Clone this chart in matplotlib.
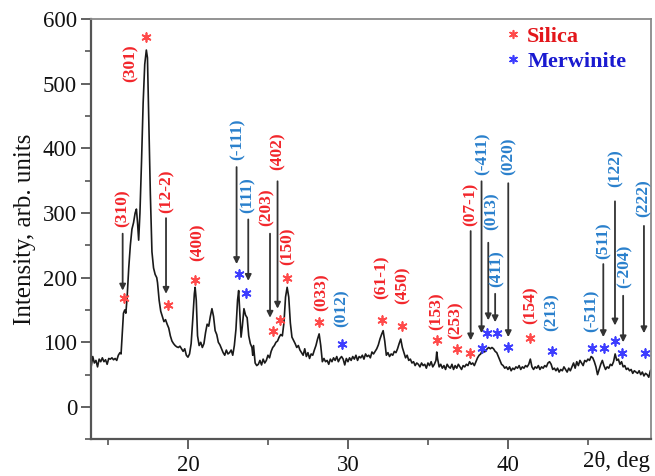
import matplotlib
matplotlib.use("Agg")
import matplotlib.pyplot as plt
from matplotlib.ticker import MultipleLocator

# ---------------- data ----------------
two_theta = [13.95, 14.05, 14.15, 14.25, 14.35, 14.45, 14.55, 14.65, 14.75, 14.85, 14.95, 15.05, 15.15, 15.25,
             15.35, 15.45, 15.55, 15.65, 15.75, 15.82, 15.9, 15.97, 16.05, 16.12, 16.2, 16.3, 16.4, 16.5, 16.6,
             16.7, 16.78, 16.85, 16.92, 17.0, 17.1, 17.2, 17.3, 17.4, 17.47, 17.55, 17.65, 17.75, 17.85, 17.95,
             18.05, 18.1, 18.2, 18.3, 18.4, 18.5, 18.6, 18.7, 18.8, 18.9, 19.0, 19.1, 19.2, 19.3, 19.4, 19.5,
             19.6, 19.7, 19.8, 19.9, 20.0, 20.1, 20.2, 20.3, 20.4, 20.45, 20.52, 20.6, 20.7, 20.8, 20.9, 21.0,
             21.1, 21.2, 21.3, 21.4, 21.5, 21.6, 21.7, 21.8, 21.9, 22.0, 22.1, 22.2, 22.3, 22.4, 22.5, 22.6,
             22.7, 22.8, 22.9, 23.0, 23.1, 23.17, 23.25, 23.32, 23.4, 23.5, 23.6, 23.7, 23.8, 23.9, 24.0, 24.05,
             24.1, 24.2, 24.3, 24.4, 24.5, 24.6, 24.7, 24.8, 24.9, 25.0, 25.1, 25.2, 25.3, 25.4, 25.5, 25.6,
             25.7, 25.8, 25.9, 26.0, 26.1, 26.2, 26.3, 26.4, 26.5, 26.6, 26.7, 26.8, 26.9, 27.0, 27.1, 27.2,
             27.3, 27.4, 27.5, 27.6, 27.7, 27.8, 27.9, 28.0, 28.1, 28.2, 28.3, 28.4, 28.5, 28.6, 28.7, 28.8,
             28.9, 29.0, 29.1, 29.2, 29.3, 29.4, 29.5, 29.6, 29.7, 29.8, 29.9, 30.0, 30.1, 30.2, 30.3, 30.4,
             30.5, 30.6, 30.7, 30.8, 30.9, 31.0, 31.1, 31.2, 31.3, 31.4, 31.5, 31.6, 31.7, 31.8, 31.9, 32.0,
             32.1, 32.2, 32.3, 32.4, 32.5, 32.6, 32.7, 32.8, 32.9, 33.0, 33.1, 33.2, 33.3, 33.4, 33.5, 33.6,
             33.7, 33.8, 33.9, 34.0, 34.1, 34.2, 34.3, 34.4, 34.5, 34.6, 34.7, 34.8, 34.9, 35.0, 35.1, 35.2,
             35.3, 35.4, 35.5, 35.55, 35.6, 35.7, 35.8, 35.9, 36.0, 36.1, 36.2, 36.3, 36.4, 36.5, 36.6, 36.7,
             36.8, 36.9, 37.0, 37.1, 37.2, 37.3, 37.4, 37.5, 37.6, 37.7, 37.8, 37.9, 38.0, 38.1, 38.2, 38.3,
             38.4, 38.5, 38.6, 38.7, 38.8, 38.9, 39.0, 39.1, 39.2, 39.3, 39.4, 39.5, 39.6, 39.7, 39.8, 39.9,
             40.0, 40.1, 40.2, 40.3, 40.4, 40.5, 40.6, 40.7, 40.8, 40.9, 41.0, 41.1, 41.2, 41.3, 41.4, 41.5,
             41.6, 41.7, 41.8, 41.9, 42.0, 42.1, 42.2, 42.3, 42.4, 42.5, 42.6, 42.7, 42.8, 42.9, 43.0, 43.1,
             43.2, 43.3, 43.4, 43.5, 43.6, 43.7, 43.8, 43.9, 44.0, 44.1, 44.2, 44.3, 44.4, 44.5, 44.6, 44.7,
             44.8, 44.9, 45.0, 45.1, 45.2, 45.3, 45.4, 45.5, 45.6, 45.7, 45.8, 45.9, 46.0, 46.1, 46.2, 46.3,
             46.4, 46.5, 46.6, 46.7, 46.8, 46.9, 47.0, 47.1, 47.2, 47.3, 47.4, 47.5, 47.6, 47.7, 47.8, 47.9,
             48.0, 48.1, 48.2, 48.3, 48.4, 48.5, 48.6, 48.7, 48.8, 48.9, 48.97]
intensity = [62, 78, 68, 72, 62, 74, 70, 76, 70, 73, 66, 75, 74, 76,
             73, 75, 72, 80, 84, 82, 115, 145, 150, 145, 170, 215, 250, 275, 285,
             300, 306, 285, 258, 300, 380, 470, 530, 552, 540, 450, 330, 240, 215, 205,
             200, 192, 165, 148, 140, 132, 135, 128, 122, 110, 102, 98, 95, 93, 92, 94,
             90, 86, 90, 80, 77, 82, 98, 135, 175, 185, 165, 110, 95, 100, 92, 98,
             115, 128, 125, 140, 152, 140, 118, 112, 100, 96, 90, 84, 80, 88, 82, 84,
             88, 80, 95, 120, 165, 180, 140, 108, 125, 152, 142, 138, 110, 98, 92, 80,
             95, 68, 64, 66, 72, 65, 74, 68, 72, 80, 76, 86, 92, 95, 100, 102,
             108, 112, 110, 130, 170, 185, 170, 130, 108, 103, 98, 92, 95, 88, 84, 80,
             90, 78, 84, 75, 82, 80, 88, 95, 105, 113, 95, 70, 75, 70, 72, 66,
             74, 70, 76, 72, 78, 70, 75, 78, 74, 65, 75, 70, 76, 72, 78, 74,
             80, 72, 78, 76, 80, 74, 82, 78, 80, 76, 85, 82, 86, 90, 96, 105,
             112, 118, 102, 80, 84, 78, 82, 80, 86, 84, 90, 98, 105, 92, 84, 76,
             80, 72, 74, 68, 70, 64, 68, 66, 62, 68, 64, 66, 60, 68, 64, 70,
             62, 66, 72, 85, 75, 62, 66, 60, 64, 58, 66, 62, 60, 66, 58, 64,
             60, 66, 62, 58, 64, 62, 66, 64, 70, 66, 68, 64, 70, 76, 80, 82,
             88, 85, 86, 90, 92, 90, 92, 90, 86, 84, 78, 72, 66, 64, 60, 62,
             58, 62, 56, 60, 58, 62, 60, 64, 58, 62, 60, 64, 62, 66, 74, 62,
             58, 62, 60, 64, 58, 62, 60, 64, 62, 68, 70, 66, 58, 60, 56, 60,
             54, 58, 56, 62, 58, 54, 60, 56, 62, 68, 60, 70, 64, 72, 68, 64,
             72, 70, 74, 72, 78, 76, 70, 62, 50, 58, 66, 72, 64, 58, 62, 60,
             66, 64, 70, 82, 72, 74, 66, 70, 62, 64, 58, 60, 56, 58, 52, 56,
             54, 52, 56, 50, 54, 48, 52, 50, 46, 56, 58]

# Silica reflections
silica_labels = ["(310)", "(301)", "(12-2)", "(400)", "(203)", "(402)", "(150)", "(033)",
                 "(61-1)", "(450)", "(153)", "(253)", "(07-1)", "(154)"]
silica_label_x = [15.94, 16.44, 18.69, 20.6, 24.94, 25.63, 26.2, 28.35, 32.1, 33.4, 35.56, 36.7, 37.67, 41.4]
silica_label_y = [308, 531, 334, 254, 309, 395, 248, 178, 200, 188, 148, 134, 314, 158]
silica_star_x = [16.0, 17.36, 18.77, 20.44, 25.3, 25.75, 26.2, 28.2, 32.1, 33.4, 35.56, 36.8, 37.63, 41.4]
silica_star_y = [169, 572, 157, 197, 117, 134, 200, 131, 134, 125, 103, 89, 83, 106]

# Merwinite reflections
merw_labels = ["(-111)", "(111)", "(012)", "(-411)", "(013)", "(411)", "(020)", "(213)",
               "(-511)", "(511)", "(122)", "(-204)", "(222)"]
merw_label_x = [23.1, 23.75, 29.6, 38.42, 38.98, 39.3, 40.02, 42.73, 45.23, 45.96, 46.75, 47.3, 48.5]
merw_label_y = [414, 328, 152, 392, 303, 214, 388, 146, 148, 257, 369, 217, 323]
merw_star_x = [23.19, 23.63, 29.6, 38.35, 38.67, 39.3, 40.02, 42.73, 45.23, 46.0, 46.69, 47.1, 48.56]
merw_star_y = [205, 177, 98, 91, 115, 115, 92, 86, 91, 91, 102, 83, 83]

# Pointer arrows (x, top, bottom)
arrow_x = [15.92, 18.63, 25.13, 25.6, 37.67, 23.04, 23.77, 38.35, 38.77, 39.2, 40.02, 45.96, 46.69, 47.2, 48.5]
arrow_top = [268, 292, 268, 349, 272, 371, 290, 349, 254, 175, 346, 221, 318, 172, 280]
arrow_bottom = [180, 175, 138, 152, 103, 221, 195, 114, 134, 131, 108, 108, 126, 100, 114]

x_ticks = [20, 30, 40]
y_ticks = [0, 100, 200, 300, 400, 500, 600]

# ---------------- styling ----------------
SERIF = ["Liberation Serif", "DejaVu Serif"]
RED_LBL = "#f2262b"
BLUE_LBL = "#2a80cc"
RED_STAR = "#ff4a4a"
BLUE_STAR = "#3d3dff"

fig = plt.figure(figsize=(6.55, 4.76), dpi=100)
ax = fig.add_axes([0.1389, 0.0771, 0.8557, 0.883])

ax.plot(two_theta, intensity, color="#1a1a1a", lw=1.2)

ax.set_xlim(13.94, 48.97)
ax.set_ylim(-50, 600)
ax.set_xticks(x_ticks)
ax.set_yticks(y_ticks)
ax.xaxis.set_minor_locator(MultipleLocator(5))
ax.yaxis.set_minor_locator(MultipleLocator(50))
ax.tick_params(axis="both", which="major", direction="out", length=7, width=1.3,
               colors="#555555", labelcolor="#111111", labelsize=16.5, top=False, right=False)
ax.tick_params(axis="both", which="minor", direction="out", length=4, width=1.2,
               colors="#555555", top=False, right=False)
ax.tick_params(axis="x", which="major", pad=4)
ax.tick_params(axis="y", which="major", pad=3)
for lab in ax.get_xticklabels() + ax.get_yticklabels():
    lab.set_family(SERIF)

for side in ["left", "bottom"]:
    ax.spines[side].set_color("#555555")
    ax.spines[side].set_linewidth(1.6)
for side in ["top", "right"]:
    ax.spines[side].set_color("#8a8a8a")
    ax.spines[side].set_linewidth(1.3)

ax.set_ylabel("Intensity, arb. units", family=SERIF, fontsize=18, color="#111111", labelpad=5)
ax.text(44.7, -0.027, "2θ, deg", transform=ax.get_xaxis_transform(), ha="left", va="top",
        family=SERIF, fontsize=16.5, color="#111111")

# arrows
for x, yt, yb in zip(arrow_x, arrow_top, arrow_bottom):
    ax.annotate("", xy=(x, yb), xytext=(x, yt),
                arrowprops=dict(arrowstyle="-|>", color="#333333", lw=1.3,
                                mutation_scale=9, shrinkA=0, shrinkB=0))

# labels
for lab, x, y in zip(silica_labels, silica_label_x, silica_label_y):
    ax.text(x, y, lab, rotation=90, ha="center", va="center", family=SERIF,
            fontweight="bold", fontsize=12.5, color=RED_LBL)
for lab, x, y in zip(merw_labels, merw_label_x, merw_label_y):
    ax.text(x, y, lab, rotation=90, ha="center", va="center", family=SERIF,
            fontweight="bold", fontsize=12.5, color=BLUE_LBL)

# asterisks
ax.scatter(silica_star_x, silica_star_y, marker=(6, 2, 0), s=40, linewidths=1.25,
           color=RED_STAR, zorder=4)
ax.scatter(merw_star_x, merw_star_y, marker=(6, 2, 0), s=40, linewidths=1.25,
           color=BLUE_STAR, zorder=4)

# legend
ax.scatter([40.3], [577], marker=(6, 2, 0), s=30, linewidths=1.2, color=RED_STAR, zorder=4)
ax.scatter([40.3], [538], marker=(6, 2, 0), s=30, linewidths=1.2, color=BLUE_STAR, zorder=4)
ax.text(41.2, 572, "Silica", ha="left", va="center", family=SERIF, fontweight="bold",
        fontsize=16, color="#e3161b")
ax.text(41.2, 533, "Merwinite", ha="left", va="center", family=SERIF, fontweight="bold",
        fontsize=16, color="#1a1ad0")

fig.savefig("out.png", dpi=100)
